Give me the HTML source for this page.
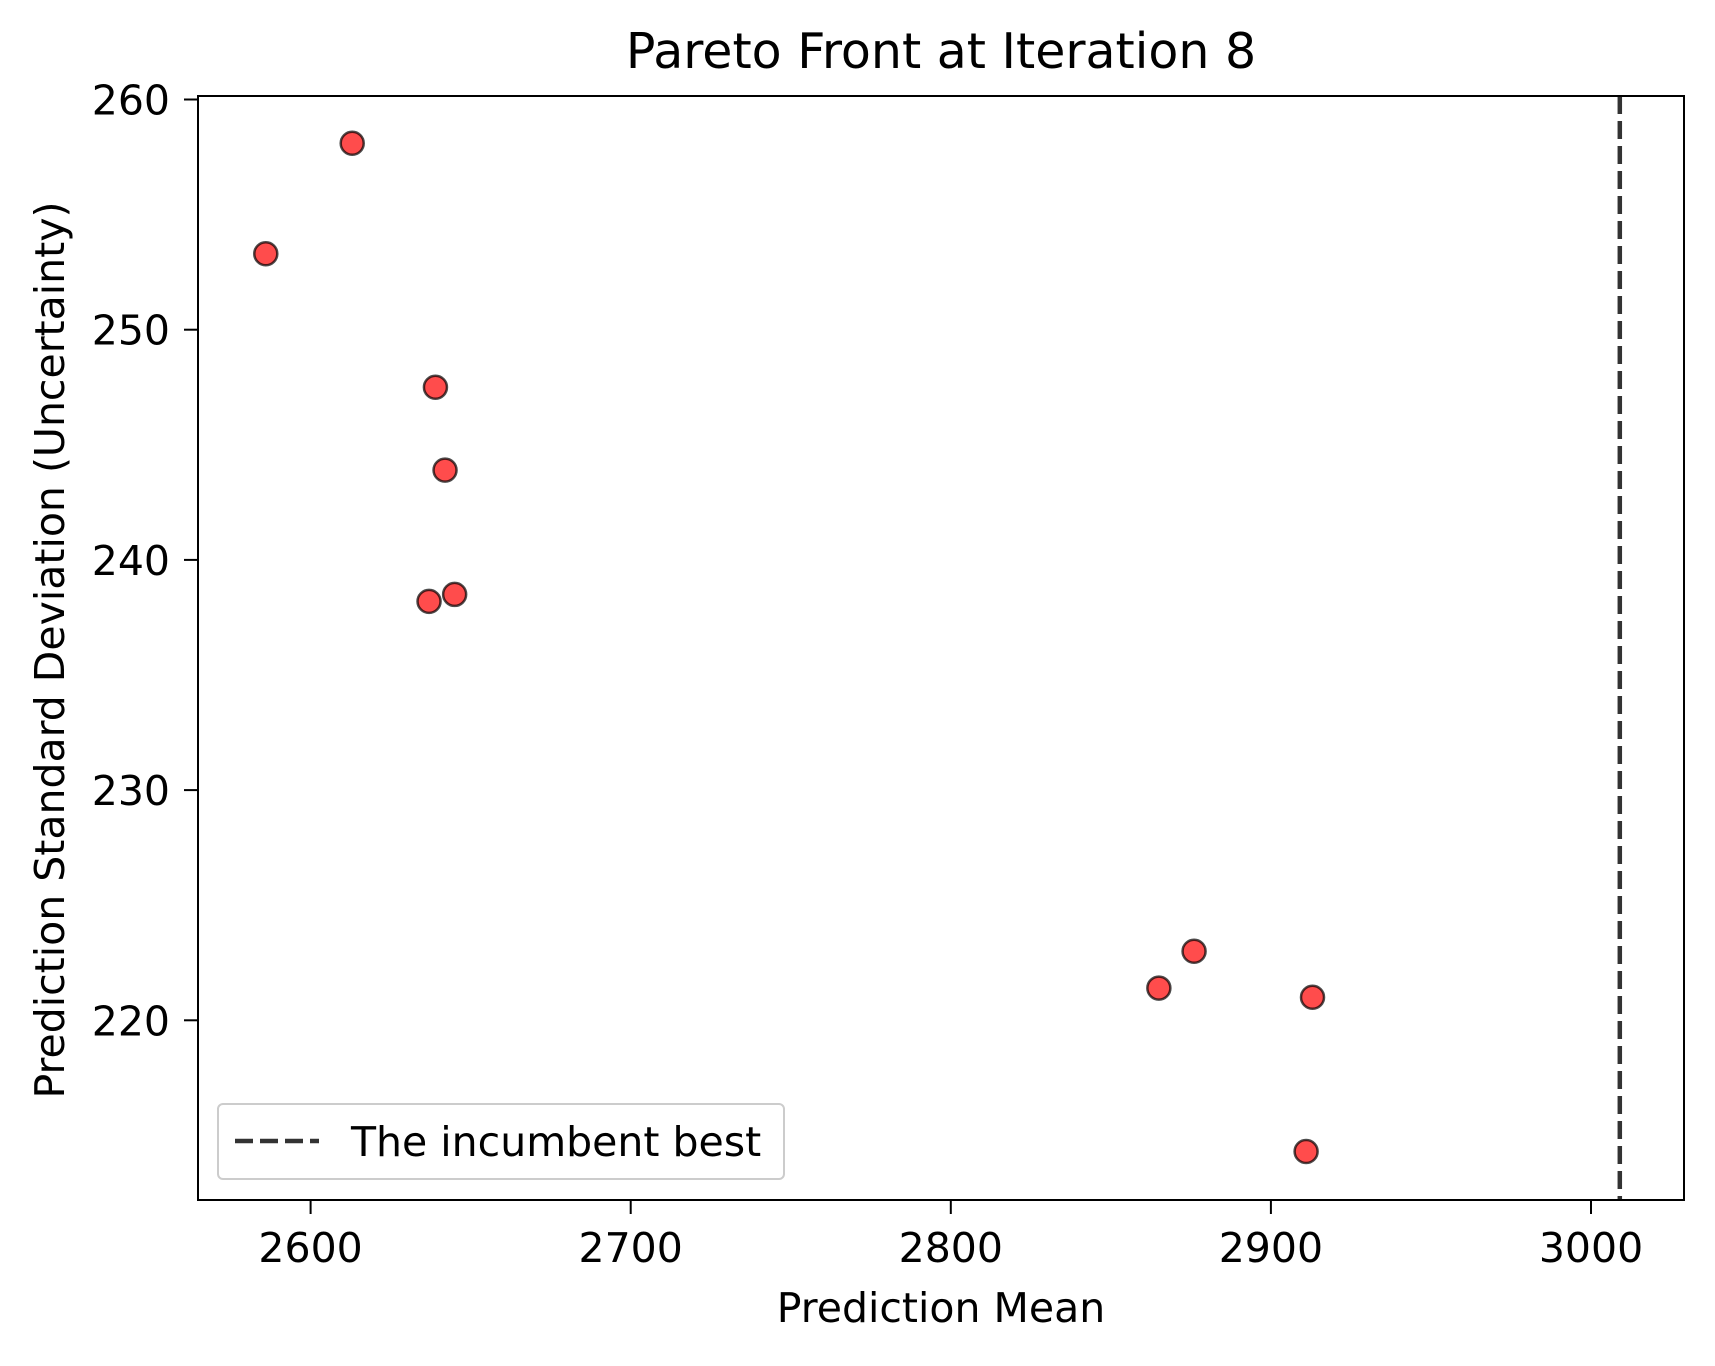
<!DOCTYPE html>
<html><head><meta charset="utf-8"><style>
body{margin:0;background:#fff}
svg text{font-family:"DejaVu Sans","Liberation Sans",sans-serif;fill:#000}
</style></head><body>
<svg id="chart" width="1715" height="1361" viewBox="0 0 1715 1361" xmlns="http://www.w3.org/2000/svg">
<text x="941" y="68" font-size="49" text-anchor="middle">Pareto Front at Iteration 8</text>
<g id="points"></g>
<rect x="198" y="96" width="1486" height="1104" fill="none" stroke="#000" stroke-width="2"/>
<g id="xticks"></g><g id="yticks"></g>
<text x="941" y="1322" font-size="41" text-anchor="middle">Prediction Mean</text>
<text transform="translate(64,650) rotate(-90)" font-size="41" text-anchor="middle">Prediction Standard Deviation (Uncertainty)</text>
<g>
<rect x="218" y="1104" width="566" height="75" rx="5" fill="#fff" fill-opacity="0.8" stroke="#ccc" stroke-width="2"/>
<line x1="235" y1="1141" x2="319" y2="1141" stroke="#333" stroke-width="4.5" stroke-dasharray="18,7"/>
<text x="351" y="1156" font-size="41">The incumbent best</text>
</g>
</svg>
<script>
const xs=[2586,2613,2639,2642,2637,2645,2876,2865,2913,2911];
const ys=[253.3,258.1,247.5,243.9,238.2,238.5,223.0,221.4,221.0,214.3];
const incumbent=[3009];
const xTicks=[2600,2700,2800,2900,3000];
const yTicks=[220,230,240,250,260];
const X=v=>310.6+(v-2600)*3.201;
const Y=v=>99.5+(260-v)*23.02;
const NS="http://www.w3.org/2000/svg";
const svg=document.getElementById('chart');
function mk(t,a,p){const e=document.createElementNS(NS,t);for(const k in a)e.setAttribute(k,a[k]);p.appendChild(e);return e;}
const pts=document.getElementById('points');
const dl=mk('line',{x1:X(incumbent[0]),x2:X(incumbent[0]),y1:96,y2:1200,stroke:'#333','stroke-width':4.5,'stroke-dasharray':'18,7'},pts);


xs.forEach((x,i)=>{const c=mk('circle',{cx:X(x),cy:Y(ys[i]),r:11.5,fill:'rgba(255,0,0,0.7)',stroke:'rgba(0,0,0,0.7)','stroke-width':2.5},pts);

});
const gx=document.getElementById('xticks');
xTicks.forEach(v=>{mk('line',{x1:X(v),x2:X(v),y1:1200,y2:1214,stroke:'#000','stroke-width':2},gx);
const t=mk('text',{x:X(v),y:1262,'font-size':41,'text-anchor':'middle'},gx);t.textContent=v;

});
const gy=document.getElementById('yticks');
yTicks.forEach(v=>{mk('line',{x1:184,x2:198,y1:Y(v),y2:Y(v),stroke:'#000','stroke-width':2},gy);
const t=mk('text',{x:170,y:Y(v)+15,'font-size':41,'text-anchor':'end'},gy);t.textContent=v;

});
</script>
</body></html>
